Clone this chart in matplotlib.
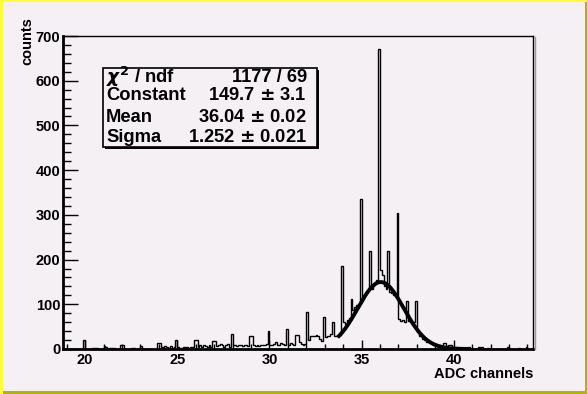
import numpy as np
import matplotlib
matplotlib.use("Agg")
import matplotlib.pyplot as plt
from matplotlib.patches import Rectangle
from matplotlib.lines import Line2D
from matplotlib.ticker import MultipleLocator

# ---------------- data ----------------
x_min, x_max = 18.8, 44.3
bin_width = 0.1
counts = (
    [0, 0] +                                   # 18.8-19.0
    [0, 0, 1, 0, 0, 0, 0, 0, 0, 20] +          # 19.x
    [0, 0, 0, 0, 2, 3, 2, 0, 0, 0] +           # 20.x
    [7, 4, 0, 3, 3, 2, 0, 0, 0, 10] +          # 21.x
    [10, 0, 0, 0, 0, 2, 2, 0, 0, 0] +          # 22.x
    [7, 0, 0, 0, 0, 0, 0, 0, 0, 13] +          # 23.x
    [13, 5, 3, 6, 4, 3, 7, 2, 5, 20] +         # 24.x
    [4, 3, 3, 5, 2, 4, 3, 5, 4, 20] +          # 25.x
    [20, 5, 8, 5, 10, 6, 4, 9, 5, 17] +        # 26.x
    [17, 6, 8, 12, 9, 5, 10, 12, 4, 33] +      # 27.x
    [8, 9, 7, 8, 10, 6, 8, 9, 7, 28] +         # 28.x
    [28, 8, 6, 9, 7, 10, 8, 9, 12, 40] +       # 29.x
    [10, 8, 12, 15, 10, 9, 14, 12, 8, 45] +    # 30.x
    [10, 14, 12, 9, 31, 31, 16, 12, 10, 12] +  # 31.x
    [83, 20, 30, 30, 28, 32, 30, 22, 18, 72] + # 32.x
    [26, 30, 28, 33, 61, 30, 28, 30, 32, 186] +        # 33.x
    [60, 55, 65, 70, 112, 87, 95, 98, 100, 335] +      # 34.x
    [110, 118, 125, 130, 219, 135, 140, 148, 155, 670] +  # 35.x
    [177, 165, 140, 135, 219, 128, 125, 120, 118, 305] +  # 36.x
    [68, 62, 65, 60, 107, 62, 60, 58, 60, 107] +       # 37.x
    [38, 30, 28, 22, 20, 16, 18, 14, 12, 10] +         # 38.x
    [12, 8, 10, 5, 14, 14, 6, 9, 9, 3] +               # 39.x
    [4, 2, 1, 0, 2, 0, 0, 0, 4, 0] +                   # 40.x
    [0, 0, 0, 4, 0, 4, 0, 0, 3, 0] +                   # 41.x
    [0, 0, 0, 0, 0, 0, 0, 0, 0, 4] +                   # 42.x
    [0, 0, 0, 0, 0, 3, 0, 0, 0, 4] +                   # 43.x
    [0, 0, 0]                                          # 44.0-44.3
)

# Gaussian fit parameters (from stats box)
fit_const, fit_mean, fit_sigma = 149.7, 36.04, 1.252
fit_range = (33.7, 40.8)

stat_labels = [r"$\chi^{2}$ / ndf", "Constant", "Mean", "Sigma"]
stat_values = ["1177 / 69", "149.7 $\\pm$ 3.1", "36.04 $\\pm$ 0.02", "1.252 $\\pm$ 0.021"]

x_title = "ADC channels"
y_title = "counts"

# ---------------- style ----------------
W, H = 587, 394
bg = "#f4f0f4"
plt.rcParams["font.family"] = ["Liberation Sans", "DejaVu Sans"]
plt.rcParams["font.weight"] = "bold"
plt.rcParams["mathtext.fontset"] = "dejavusans"

fig = plt.figure(figsize=(W / 100, H / 100), dpi=100, facecolor=bg)

def fx(px):
    return px / W

def fy(py):
    return 1 - py / H

L, R, T, B = 63, 533, 36, 349
ax = fig.add_axes([fx(L), fy(B), fx(R) - fx(L), fy(T) - fy(B)])
ax.set_facecolor(bg)

edges = x_min + bin_width * np.arange(len(counts) + 1)
ax.stairs(counts, edges, color="black", lw=1.0, baseline=0)

xf = np.linspace(fit_range[0], fit_range[1], 300)
yf = fit_const * np.exp(-0.5 * ((xf - fit_mean) / fit_sigma) ** 2)
ax.plot(xf, yf, color="black", lw=2.8, solid_capstyle="butt")

ax.set_xlim(x_min, x_max)
ax.set_ylim(0, 700)
ax.xaxis.set_major_locator(MultipleLocator(5))
ax.xaxis.set_minor_locator(MultipleLocator(1))
ax.yaxis.set_major_locator(MultipleLocator(100))
ax.yaxis.set_minor_locator(MultipleLocator(20))
ax.tick_params(axis="x", which="major", direction="in", length=6.8, width=1.0,
               labelsize=10.5, pad=3, top=False)
ax.tick_params(axis="x", which="minor", direction="in", length=3.4, width=1.0, top=False)
ax.tick_params(axis="y", which="major", direction="in", length=10.8, width=1.0,
               labelsize=10.5, pad=2, right=False)
ax.tick_params(axis="y", which="minor", direction="in", length=5.4, width=1.0, right=False)
for lab in ax.get_xticklabels() + ax.get_yticklabels():
    lab.set_fontweight("bold")

for s in ("left", "bottom"):
    ax.spines[s].set_linewidth(2.0)
for s in ("top", "right"):
    ax.spines[s].set_linewidth(1.0)

# frame shadow on right
fig.add_artist(Line2D([fx(R + 2), fx(R + 2)], [fy(B), fy(T + 1)], transform=fig.transFigure,
                      color="#9a9a9a", lw=1.0))

# titles
fig.text(fx(533), fy(374), x_title, ha="right", va="center", fontsize=10.5, fontweight="bold")
fig.text(fx(27), fy(17), y_title, ha="center", va="top", rotation=90, fontsize=10.5,
         fontweight="bold")

# stats box
bx0, by0, bx1, by1 = 103, 68, 317, 147
fig.add_artist(Rectangle((fx(bx0 + 2), fy(by1 + 2)), fx(bx1) - fx(bx0), fy(by0) - fy(by1),
                         transform=fig.transFigure, facecolor="black", edgecolor="none", zorder=5))
fig.add_artist(Rectangle((fx(bx0), fy(by1)), fx(bx1) - fx(bx0), fy(by0) - fy(by1),
                         transform=fig.transFigure, facecolor=bg, edgecolor="black", lw=1.2,
                         zorder=6))
row_y = [77, 96, 117, 137]
for lab, val, ry in zip(stat_labels, stat_values, row_y):
    fig.text(fx(106), fy(ry), lab, ha="left", va="center", fontsize=13.2, fontweight="bold",
             zorder=7)
    fig.text(fx(307), fy(ry), val, ha="right", va="center", fontsize=13.2, fontweight="bold",
             zorder=7)

# canvas bevel border (light top/left, dark bottom/right)
light, dark = "#ffff33", "#b4b400"
fig.add_artist(Rectangle((0, 0), fx(3), 1, transform=fig.transFigure, facecolor=light,
                         edgecolor="none", zorder=10))
fig.add_artist(Rectangle((0, fy(2)), 1, 2 / H, transform=fig.transFigure, facecolor=light,
                         edgecolor="none", zorder=10))
fig.add_artist(Rectangle((fx(W - 2), 0), 2 / W, fy(2), transform=fig.transFigure,
                         facecolor=dark, edgecolor="none", zorder=11))
fig.add_artist(Rectangle((fx(3), 0), 1, 3 / H, transform=fig.transFigure, facecolor=dark,
                         edgecolor="none", zorder=11))

fig.savefig("out.png", dpi=100, facecolor=bg)
